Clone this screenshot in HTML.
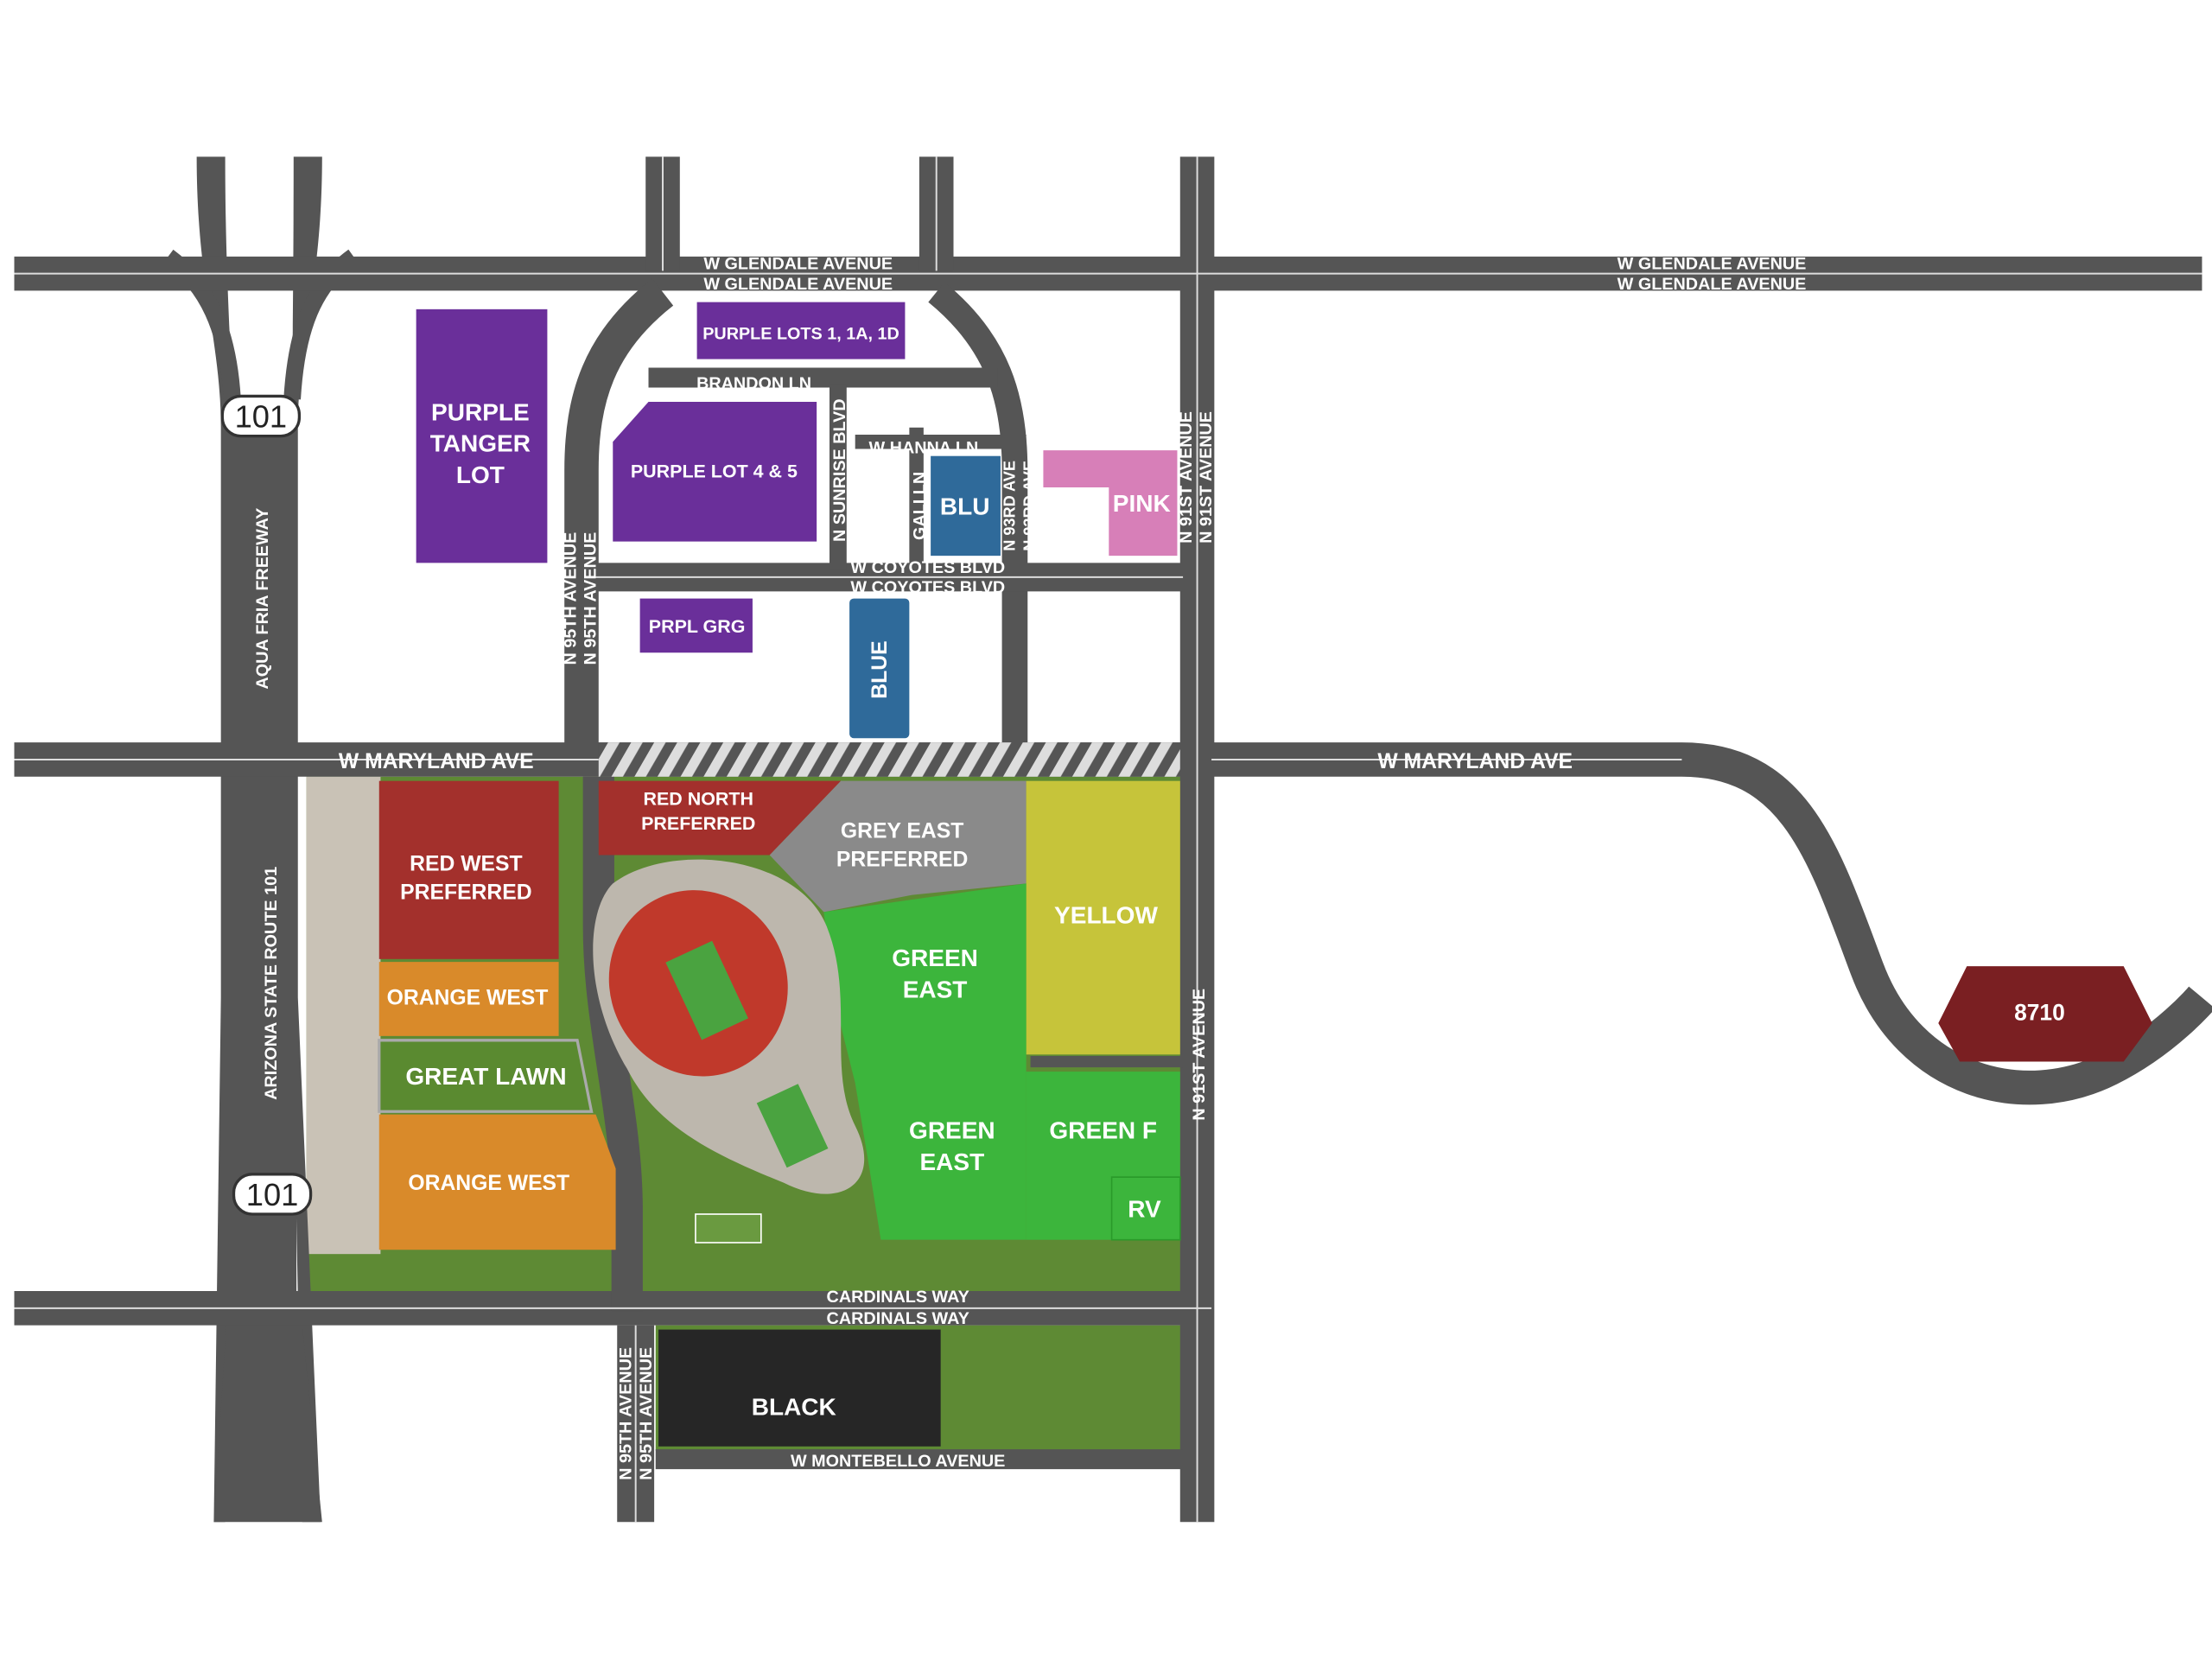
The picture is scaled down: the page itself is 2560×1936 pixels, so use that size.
<!DOCTYPE html>
<html><head><meta charset="utf-8"><style>
html,body{margin:0;padding:0;background:#fff;}
svg{display:block}
text{font-family:"Liberation Sans",sans-serif;font-weight:bold;fill:#fff}
</style></head><body>
<svg width="2560" height="1936" viewBox="0 0 1552 1174" preserveAspectRatio="none" xmlns="http://www.w3.org/2000/svg">
<defs>
<pattern id="hatch" width="14" height="14" patternUnits="userSpaceOnUse" patternTransform="rotate(30)">
<rect width="14" height="14" fill="#555"/><rect width="7" height="14" fill="#ddd"/></pattern>
</defs>
<rect width="1552" height="1174" fill="#fff"/>
<rect x="215" y="545" width="615" height="362" fill="#5e8a34"/>
<rect x="215" y="545" width="52" height="335" fill="#c9c2b6"/>
<rect x="460" y="930" width="370" height="88" fill="#5e8a34"/>
<!-- freeway -->
<path d="M138 110 H158 C158 200 163 250 163 300 L163 700 L158 1068 H150 L155 700 L155 300 C155 240 138 200 138 110Z" fill="#555"/>
<path d="M206 110 H226 C226 200 209 240 209 300 L209 700 L225 1068 H212 L205 700 L205 300 C205 250 206 200 206 110Z" fill="#555"/>
<rect x="160" y="290" width="48" height="620" fill="#555"/>
<path d="M160 910 L150 1068 H226 L210 910Z" fill="#555"/>
<path d="M163 290 C163 200 200 200 205 290Z" fill="#fff"/>
<g fill="none" stroke="#555" stroke-linecap="butt">
<path d="M118 180 C145 200 160 230 163 280" stroke-width="12"/>
<path d="M248 180 C220 200 208 230 205 280" stroke-width="12"/>
<path d="M10 192 H1545" stroke-width="24"/>
<path d="M10 533 H1180 C1260 533 1280 600 1310 680 C1340 760 1420 780 1480 750 C1520 730 1545 700 1545 700" stroke-width="24"/>
<path d="M10 918 H850" stroke-width="24"/>
<path d="M465 110 V190" stroke-width="24"/>
<path d="M657 110 V190" stroke-width="24"/>
<path d="M840 110 V1068" stroke-width="24"/>
<path d="M465 205 C420 240 408 280 408 330 V540" stroke-width="24"/>
<path d="M657 205 C700 240 712 280 712 330 V540" stroke-width="18"/>
<path d="M420 545 V650 C420 720 440 780 440 850 V920" stroke-width="22"/>
<path d="M446 930 V1068" stroke-width="26"/>
<path d="M410 405 H830" stroke-width="20"/>
<path d="M455 265 H700" stroke-width="14"/>
<path d="M588 270 V400" stroke-width="12"/>
<path d="M643 300 V400" stroke-width="10"/>
<path d="M600 310 H720" stroke-width="10"/>
<path d="M460 1024 H830" stroke-width="14"/>
<path d="M723 745 H830" stroke-width="8"/>
</g>
<g fill="none" stroke="#ddd" stroke-width="1.2">
<path d="M10 192 H1545"/><path d="M10 533 H420"/><path d="M850 533 H1180"/><path d="M10 918 H850"/>
<path d="M840 110 V1068"/><path d="M465 110 V190"/><path d="M657 110 V190"/>
<path d="M410 405 H830"/><path d="M446 930 V1068"/>
</g>
<rect x="420" y="521" width="408" height="24" fill="url(#hatch)"/>
<rect x="156" y="278" width="54" height="28" rx="13" fill="#fff" stroke="#333" stroke-width="2"/>
<text x="183" y="300" font-size="22" text-anchor="middle" style="fill:#222;font-weight:normal">101</text>
<rect x="164" y="824" width="54" height="28" rx="13" fill="#fff" stroke="#333" stroke-width="2"/>
<text x="191" y="846" font-size="22" text-anchor="middle" style="fill:#222;font-weight:normal">101</text>
<rect x="292" y="217" width="92" height="178" fill="#6a2f9a"/>
<rect x="489" y="212" width="146" height="40" fill="#6a2f9a"/>
<polygon points="455,282 573,282 573,380 430,380 430,310" fill="#6a2f9a"/>
<rect x="449" y="420" width="79" height="38" fill="#6a2f9a"/>
<rect x="653" y="320" width="49" height="70" fill="#2f6a9a"/>
<rect x="596" y="420" width="42" height="98" rx="3" fill="#2f6a9a"/>
<polygon points="732,316 826,316 826,390 778,390 778,342 732,342" fill="#d77fb8"/>
<rect x="266" y="548" width="126" height="125" fill="#a3302c"/>
<rect x="266" y="675" width="126" height="52" fill="#d98a2a"/>
<polygon points="266,730 405,730 415,780 266,780" fill="#5a8a30" stroke="#aaa" stroke-width="2"/>
<polygon points="266,782 418,782 432,820 432,877 266,877" fill="#d98a2a"/>
<polygon points="420,548 590,548 540,600 420,600" fill="#a3302c"/>
<polygon points="590,548 720,548 720,620 640,628 578,640 540,600" fill="#8a8a8a"/>
<rect x="720" y="548" width="108" height="192" fill="#c6c43a"/>
<polygon points="578,640 720,620 720,870 618,870 610,820 600,760 585,700" fill="#3cb53c"/>
<rect x="720" y="752" width="108" height="118" fill="#3cb53c"/>
<rect x="780" y="826" width="48" height="44" fill="#3cb53c" stroke="#2a9a2a"/>
<path d="M430 620 C470 590 560 600 580 650 C600 700 580 750 600 790 C620 830 590 850 550 830 C500 810 460 790 440 750 C410 700 410 640 430 620Z" fill="#bdb7ad"/>
<ellipse cx="490" cy="690" rx="62" ry="66" fill="#c0392b" transform="rotate(-25 490 690)"/>
<rect x="478" y="665" width="36" height="60" fill="#4aa340" transform="rotate(-25 496 695)"/>
<rect x="540" y="765" width="32" height="50" fill="#4aa340" transform="rotate(-25 556 790)"/>
<rect x="488" y="852" width="46" height="20" fill="#6a9a40" stroke="#fff"/>
<rect x="462" y="933" width="198" height="82" fill="#262626"/>
<polygon points="1380,678 1490,678 1510,718 1490,745 1375,745 1360,718" fill="#7a1f22"/>
<g font-size="17" text-anchor="middle">
<text x="337" y="295">PURPLE</text><text x="337" y="317">TANGER</text><text x="337" y="339">LOT</text>
<text x="562" y="238" font-size="12">PURPLE LOTS 1, 1A, 1D</text>
<text x="501" y="335" font-size="13">PURPLE LOT 4 &amp; 5</text>
<text x="489" y="444" font-size="13">PRPL GRG</text>
<text x="677" y="361">BLU</text>
<text x="801" y="359">PINK</text>
<text x="622" y="470" font-size="15" transform="rotate(-90 622 470)">BLUE</text>
<text x="327" y="611" font-size="15">RED WEST</text><text x="327" y="631" font-size="15">PREFERRED</text>
<text x="328" y="705" font-size="15">ORANGE WEST</text>
<text x="341" y="761">GREAT LAWN</text>
<text x="343" y="835" font-size="15">ORANGE WEST</text>
<text x="490" y="565" font-size="13">RED NORTH</text><text x="490" y="582" font-size="13">PREFERRED</text>
<text x="633" y="588" font-size="15">GREY EAST</text><text x="633" y="608" font-size="15">PREFERRED</text>
<text x="776" y="648">YELLOW</text>
<text x="656" y="678">GREEN</text><text x="656" y="700">EAST</text>
<text x="668" y="799">GREEN</text><text x="668" y="821">EAST</text>
<text x="774" y="799">GREEN F</text>
<text x="803" y="854">RV</text>
<text x="557" y="993">BLACK</text>
<text x="1431" y="716" font-size="16">8710</text>
</g>
<g font-size="12" text-anchor="middle">
<text x="560" y="189">W GLENDALE AVENUE</text><text x="560" y="203">W GLENDALE AVENUE</text>
<text x="1201" y="189">W GLENDALE AVENUE</text><text x="1201" y="203">W GLENDALE AVENUE</text>
<text x="529" y="273">BRANDON LN</text>
<text x="648" y="318">W HANNA LN</text>
<text x="651" y="402">W COYOTES BLVD</text><text x="651" y="416">W COYOTES BLVD</text>
<text x="306" y="539" font-size="15">W MARYLAND AVE</text>
<text x="1035" y="539" font-size="15">W MARYLAND AVE</text>
<text x="630" y="914">CARDINALS WAY</text><text x="630" y="929">CARDINALS WAY</text>
<text x="630" y="1029">W MONTEBELLO AVENUE</text>
<text x="188" y="420" transform="rotate(-90 188 420)">AQUA FRIA FREEWAY</text>
<text x="194" y="690" transform="rotate(-90 194 690)">ARIZONA STATE ROUTE 101</text>
<text x="404" y="420" transform="rotate(-90 404 420)">N 95TH AVENUE</text>
<text x="418" y="420" transform="rotate(-90 418 420)">N 95TH AVENUE</text>
<text x="443" y="992" transform="rotate(-90 443 992)">N 95TH AVENUE</text>
<text x="457" y="992" transform="rotate(-90 457 992)">N 95TH AVENUE</text>
<text x="593" y="330" transform="rotate(-90 593 330)">N SUNRISE BLVD</text>
<text x="649" y="355" transform="rotate(-90 649 355)">GALI LN</text>
<text x="712" y="355" font-size="11" transform="rotate(-90 712 355)">N 93RD AVE</text>
<text x="726" y="355" font-size="11" transform="rotate(-90 726 355)">N 93RD AVE</text>
<text x="836" y="335" transform="rotate(-90 836 335)">N 91ST AVENUE</text>
<text x="850" y="335" transform="rotate(-90 850 335)">N 91ST AVENUE</text>
<text x="845" y="740" transform="rotate(-90 845 740)">N 91ST AVENUE</text>
</g>
</svg>
</body></html>
